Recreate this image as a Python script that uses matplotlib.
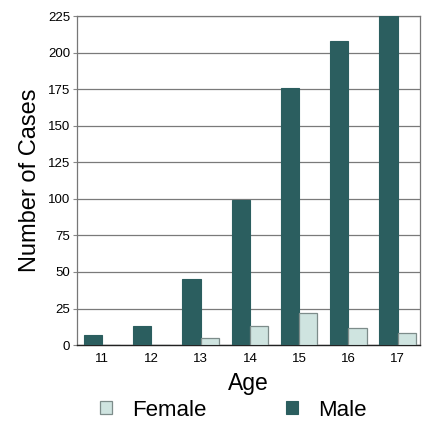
import matplotlib.pyplot as plt
import numpy as np

plt.rcParams['font.family'] = ['Liberation Sans', 'DejaVu Sans']

# cases by age
ages = [11, 12, 13, 14, 15, 16, 17]
male = [7, 13, 45, 99, 176, 208, 225]
female = [0, 0, 5, 13, 22, 12, 8]
yticks = [0, 25, 50, 75, 100, 125, 150, 175, 200, 225]

male_color = "#2b5e5f"
female_color = "#cfe4e0"

fig = plt.figure(figsize=(4.28, 4.25), dpi=100)
ax = fig.add_axes([0.180, 0.188, 0.801, 0.774])

x = np.array(ages)
w = 0.37
ax.bar(x - w, male, width=w, align='edge', color=male_color,
       edgecolor=male_color, linewidth=0.8, label="Male", zorder=3)
ax.bar(x, female, width=w, align='edge', color=female_color,
       edgecolor="#7d8c8a", linewidth=0.9, label="Female", zorder=3)

ax.set_xlim(10.49, 17.45)
ax.set_ylim(0, 225)
ax.set_yticks(yticks)
ax.set_xticks(ages)
ax.yaxis.grid(True, color="#7a7a7a", linewidth=0.9, zorder=0)
ax.tick_params(axis='y', labelsize=9.5, length=3, width=0.8, color="#888888", pad=2)
ax.tick_params(axis='x', labelsize=9.5, length=0, pad=6)

for side in ['left', 'right', 'top']:
    ax.spines[side].set_color("#777777")
    ax.spines[side].set_linewidth(0.9)
ax.spines['bottom'].set_color("#222222")
ax.spines['bottom'].set_linewidth(1.0)

ax.set_ylabel("Number of Cases", fontsize=17, labelpad=5)
ax.set_xlabel("Age", fontsize=16.5, labelpad=5)

handles, labels = ax.get_legend_handles_labels()
fig.legend(handles[::-1], labels[::-1], loc='center', bbox_to_anchor=(0.545, 0.035),
           ncol=2, frameon=False, fontsize=16, handlelength=0.55, handleheight=0.55,
           columnspacing=3.6, handletextpad=0.9)

fig.savefig("out.png", dpi=100)
